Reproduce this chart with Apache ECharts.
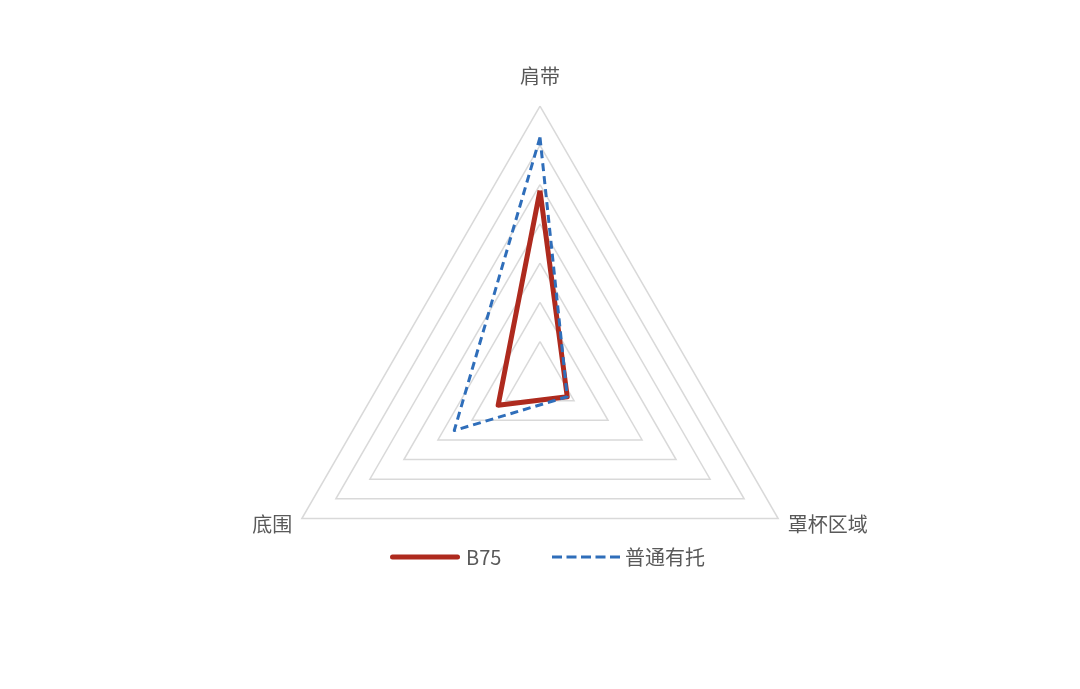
<!DOCTYPE html>
<html>
<head>
<meta charset="utf-8">
<script src="https://cdn.jsdelivr.net/npm/echarts@6/dist/echarts.min.js"></script>
<style>html,body{margin:0;padding:0;background:#fff;}#c{width:1080px;height:689px;}</style>
</head>
<body>
<div id="c"></div>
<script>
var indicatorNames = ['肩带', '底围', '罩杯区域'];
var axisMax = 7;
var seriesNames = ['B75', '普通有托'];
var b75Values = [4.85, 1.23, 0.8];
var normalValues = [6.2, 2.52, 0.8];

var RED = '#AE2A1E', BLUE = '#2F6EBA', FONT = '"Noto Sans CJK SC", "Noto Sans", sans-serif';
var chart = echarts.init(document.getElementById('c'));
chart.setOption({
  backgroundColor: '#fff',
  animation: false,
  textStyle: {fontFamily: FONT},
  legend: [{
    data: [{name: seriesNames[0], icon: 'path://M2.5,0h65a2.5,2.5 0 0 1 0,5h-65a2.5,2.5 0 0 1 0,-5z', itemStyle: {color: RED, borderWidth: 0}}],
    left: 385, top: 542, itemWidth: 72, itemHeight: 5,
    textStyle: {color: '#595959', fontSize: 20, fontFamily: FONT}
  }, {
    data: [{name: seriesNames[1], icon: 'path://M0,0h10v3h-10z M14.5,0h10v3h-10z M29,0h10v3h-10z M43.5,0h10v3h-10z M58,0h10v3h-10z', itemStyle: {color: BLUE, borderWidth: 0}}],
    left: 547, top: 542, itemWidth: 68, itemHeight: 3,
    textStyle: {color: '#595959', fontSize: 20, fontFamily: FONT}
  }],
  radar: {
    center: [540, 381],
    radius: 275,
    shape: 'polygon',
    startAngle: 90,
    splitNumber: 7,
    indicator: indicatorNames.map(function (n) { return {name: n, max: axisMax, min: 0}; }),
    axisName: {color: '#595959', fontSize: 20, fontFamily: FONT, padding: [9, 0, 9, 0]},
    nameGap: 11,
    axisLine: {show: false},
    axisTick: {show: false},
    axisLabel: {show: false},
    splitArea: {show: false},
    splitLine: {lineStyle: {color: '#D9D9D9', width: 1.5}}
  },
  series: [{
    type: 'radar',
    symbol: 'none',
    data: [{
      name: seriesNames[0], value: b75Values,
      lineStyle: {color: RED, width: 5, join: 'round'},
      itemStyle: {color: RED}
    }, {
      name: seriesNames[1], value: normalValues,
      lineStyle: {color: BLUE, width: 3, type: [8, 5]},
      itemStyle: {color: BLUE}
    }]
  }]
});
</script>
</body>
</html>
